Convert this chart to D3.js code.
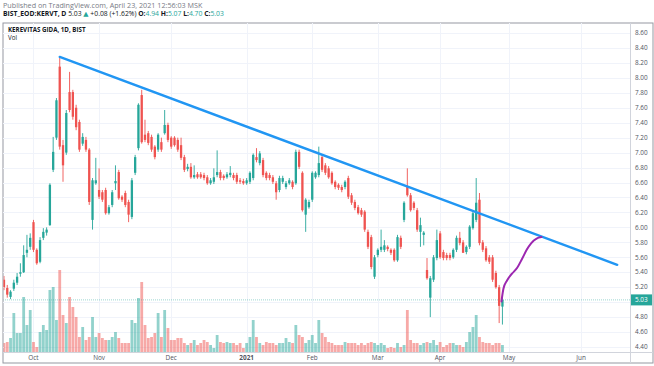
<!DOCTYPE html>
<html>
<head>
<meta charset="utf-8">
<script src="https://cdn.jsdelivr.net/npm/d3@7"></script>
<style>
  html, body { margin: 0; padding: 0; background: #fff; }
  svg { display: block; font-family: "Open Sans", "DejaVu Sans", sans-serif; }
</style>
</head>
<body>
<svg id="chart" width="654" height="366"></svg>
<script>
// daily candles [open, high, low, close], Sep 2020 -> Apr 2021
const candles = [
  [5.30,5.35,5.16,5.20],[5.19,5.23,5.06,5.10],[5.07,5.16,5.04,5.14],[5.18,5.30,5.15,5.26],[5.26,5.39,5.23,5.34],
  [5.38,5.52,5.34,5.40],[5.40,5.76,5.39,5.63],[5.66,5.90,5.60,5.70],[5.74,5.92,5.70,5.86],[6.07,6.10,5.67,5.70],
  [5.70,5.72,5.50,5.52],[5.54,5.87,5.52,5.83],[5.86,5.99,5.83,5.94],[5.93,6.00,5.89,5.97],[6.03,6.59,6.02,6.57],
  [6.77,7.21,6.74,7.01],[7.20,7.73,7.17,7.70],[8.15,8.28,7.04,7.08],[7.10,7.17,6.61,6.83],[7.00,7.57,6.97,7.53],
  [7.81,8.08,7.54,7.57],[7.81,7.84,7.44,7.48],[7.60,7.64,7.30,7.34],[7.41,7.44,7.01,7.04],[7.12,7.26,7.09,7.21],
  [7.17,7.21,7.01,7.04],[7.04,7.06,6.30,6.34],[6.10,6.66,5.97,6.63],[6.59,6.93,6.57,6.63],[6.50,6.79,6.38,6.41],
  [6.47,6.50,6.34,6.37],[6.50,6.53,6.17,6.19],[6.19,6.30,6.17,6.27],[6.30,6.50,6.27,6.47],[6.59,6.83,6.50,6.62],
  [6.74,6.77,6.37,6.39],[6.41,6.43,6.34,6.37],[6.46,6.49,6.27,6.30],[6.34,6.37,6.07,6.17],[6.14,6.66,6.11,6.63],
  [6.73,6.97,6.70,6.94],[7.06,7.66,7.03,7.64],[7.77,7.84,7.12,7.14],[7.24,7.44,7.14,7.17],[7.26,7.29,7.10,7.13],
  [7.21,7.24,7.01,7.04],[7.08,7.10,6.91,6.94],[7.04,7.26,7.01,7.24],[7.14,7.20,7.01,7.04],[7.26,7.57,7.24,7.37],
  [7.37,7.40,7.14,7.17],[7.20,7.22,7.05,7.08],[7.20,7.22,7.08,7.10],[7.17,7.20,7.01,7.04],[7.10,7.20,6.90,6.93],
  [6.94,6.97,6.74,6.77],[6.78,6.85,6.75,6.81],[6.81,6.86,6.65,6.67],[6.67,6.83,6.65,6.70],[6.71,6.74,6.65,6.67],
  [6.71,6.74,6.65,6.67],[6.70,6.73,6.63,6.66],[6.67,6.70,6.57,6.59],[6.59,6.66,6.57,6.63],[6.61,6.79,6.58,6.67],
  [6.70,7.03,6.67,6.74],[6.74,6.77,6.63,6.66],[6.69,6.71,6.63,6.66],[6.67,6.74,6.65,6.71],[6.70,6.82,6.67,6.73],
  [6.70,6.73,6.63,6.66],[6.70,6.73,6.58,6.61],[6.63,6.66,6.58,6.61],[6.62,6.65,6.57,6.59],[6.59,6.66,6.57,6.63],
  [6.61,6.75,6.58,6.73],[6.66,6.99,6.63,6.97],[6.94,7.06,6.87,6.90],[6.86,7.02,6.83,6.99],[6.90,6.93,6.67,6.70],
  [6.73,6.75,6.63,6.66],[6.70,6.73,6.63,6.66],[6.67,6.70,6.58,6.61],[6.59,6.62,6.37,6.47],[6.50,6.69,6.47,6.66],
  [6.61,6.69,6.58,6.66],[6.54,6.62,6.51,6.59],[6.59,6.66,6.57,6.63],[6.61,6.63,6.51,6.54],[6.59,7.04,6.57,7.01],
  [7.01,7.04,6.78,6.81],[6.73,6.75,6.21,6.23],[6.17,6.39,5.94,6.37],[6.27,6.37,6.25,6.34],[6.37,6.75,6.34,6.73],
  [6.67,6.75,6.65,6.73],[6.70,7.08,6.67,6.86],[6.94,6.97,6.74,6.77],[6.83,6.86,6.70,6.73],[6.79,6.82,6.65,6.67],
  [6.73,6.75,6.57,6.59],[6.61,6.63,6.51,6.54],[6.57,6.59,6.50,6.53],[6.54,6.57,6.47,6.50],[6.54,6.63,6.51,6.61],
  [6.66,6.69,6.38,6.41],[6.43,6.46,6.30,6.33],[6.34,6.37,6.23,6.26],[6.27,6.30,6.17,6.19],[6.23,6.26,6.14,6.17],
  [6.21,6.23,5.94,5.97],[5.94,5.97,5.71,5.74],[5.87,5.90,5.44,5.47],[5.34,5.63,5.31,5.60],[5.63,5.72,5.60,5.70],
  [5.70,5.97,5.67,5.74],[5.70,5.83,5.67,5.76],[5.74,5.76,5.68,5.71],[5.70,5.72,5.63,5.66],[5.70,5.72,5.54,5.56],
  [5.56,5.90,5.54,5.87],[5.86,5.89,5.71,5.74],[6.10,6.35,6.07,6.33],[6.54,6.79,6.41,6.43],[6.43,6.46,6.21,6.23],
  [6.33,6.35,6.23,6.26],[6.23,6.26,5.94,5.97],[5.94,6.13,5.74,6.03],[5.90,5.95,5.76,5.93],[5.43,5.59,5.30,5.32],
  [5.06,5.35,4.80,5.32],[5.30,5.63,5.27,5.60],[5.59,5.97,5.56,5.83],[5.92,5.95,5.58,5.60],[5.67,5.70,5.56,5.59],
  [5.63,5.66,5.56,5.59],[5.63,5.66,5.56,5.59],[5.60,5.72,5.58,5.70],[5.70,5.89,5.67,5.86],[5.86,5.94,5.76,5.79],
  [5.80,5.83,5.66,5.66],[5.67,5.76,5.64,5.74],[5.74,6.03,5.71,6.01],[5.99,6.22,5.97,6.19],[6.10,6.66,6.07,6.33],
  [6.37,6.46,5.76,5.79],[5.80,5.83,5.67,5.70],[5.72,5.75,5.54,5.56],[5.60,5.63,5.51,5.54],[5.60,5.63,5.27,5.30],
  [5.39,5.42,5.18,5.20],[5.20,5.23,4.72,4.95],[4.94,5.07,4.70,5.03]
];

// volume per candle (relative units)
const volumes = [
  9,10,14,39,19,19,55,27,42,10,5,20,27,22,62,65,32,82,37,29,55,45,35,15,25,12,15,
  35,15,19,14,12,12,15,20,14,9,9,9,32,29,54,70,27,14,15,19,39,15,42,24,12,
  12,14,14,9,7,9,12,7,9,12,10,7,4,17,10,9,10,9,9,7,9,4,9,15,32,15,9,
  7,10,9,9,7,9,9,14,10,9,27,17,15,9,12,17,9,32,19,15,10,9,7,7,7,10,
  9,9,9,7,9,7,9,10,9,7,9,7,4,5,4,9,5,7,42,12,9,9,7,9,10,9,
  12,7,10,5,7,9,9,7,7,5,10,20,25,37,15,10,9,9,7,9,9,7
];

// time axis labels at bar positions
const monthLabels = ["Oct", "Nov", "Dec", "2021", "Feb", "Mar", "Apr", "May", "Jun"];
const monthAt = [9, 29, 51, 74, 94, 114, 133, 154, 176];

// price axis ticks
const priceTicks = d3.range(4.40, 8.61, 0.20).map(v => +v.toFixed(2));

// drawn trend line (bar index, price) and the purple projection curve
const trendLine = [{ i: 17, p: 8.28 }, { i: 187, p: 5.50 }];
const projection = [
  { i: 151.7, p: 5.01 }, { i: 152.3, p: 5.18 }, { i: 153.4, p: 5.29 }, { i: 154.9, p: 5.38 },
  { i: 156.5, p: 5.46 }, { i: 158.0, p: 5.58 }, { i: 159.4, p: 5.70 }, { i: 160.8, p: 5.79 },
  { i: 162.4, p: 5.85 }, { i: 163.9, p: 5.87 }
];

const lastPrice = 5.03;

const UP = "#26a69a", DOWN = "#ef5350";
const svg = d3.select("#chart");
const L = 3, T = 23, R = 630, B = 352, FR = 653, FB = 363;

const x = d3.scaleLinear().domain([-0.3, 190.9]).range([L, R]);
const y = d3.scaleLinear().domain([4.40, 8.60]).range([347, 33]);
const yv = d3.scaleLinear().domain([0, 90]).range([B, B - 90]);

// ---------- header ----------
svg.append("text").attr("x", 3).attr("y", 7.5).attr("font-size", 7.2).attr("fill", "#787b86")
  .text("Published on TradingView.com, April 23, 2021 12:56:03 MSK");

const h2 = svg.append("text").attr("x", 3).attr("y", 16.2).attr("font-size", 6.8).attr("fill", "#131722");
h2.append("tspan").attr("font-weight", 700).text("BIST_EOD:KERVT, D ");
h2.append("tspan").text("5.03 ");
h2.append("tspan").attr("fill", UP).text("▲ ");
h2.append("tspan").text("+0.08 (+1.62%) ");
[["O:", "4.94"], ["H:", "5.07"], ["L:", "4.70"], ["C:", "5.03"]].forEach(([k, v]) => {
  h2.append("tspan").attr("font-weight", 700).text(k);
  h2.append("tspan").attr("fill", UP).text(v + " ");
});

// ---------- frame + grid ----------
svg.append("rect").attr("x", L).attr("y", T).attr("width", FR - L).attr("height", FB - T)
  .attr("fill", "#fff").attr("stroke", "#9598a1").attr("stroke-width", 1);

const grid = svg.append("g").attr("stroke", "#f0f3fa").attr("stroke-width", 1);
priceTicks.forEach(v => {
  grid.append("line").attr("x1", L).attr("x2", R).attr("y1", Math.round(y(v)) + 0.5).attr("y2", Math.round(y(v)) + 0.5);
});
monthAt.forEach(i => {
  grid.append("line").attr("y1", T).attr("y2", B).attr("x1", Math.round(x(i)) + 0.5).attr("x2", Math.round(x(i)) + 0.5);
});

svg.append("defs").append("clipPath").attr("id", "pane")
  .append("rect").attr("x", L + 0.5).attr("y", T + 0.5).attr("width", R - L - 0.5).attr("height", B - T - 0.5);
const pane = svg.append("g").attr("clip-path", "url(#pane)");

// ---------- volume ----------
const bw = 2.3;
pane.append("g").selectAll("rect").data(volumes).join("rect")
  .attr("x", (d, i) => x(i) - 1.4)
  .attr("width", 2.8)
  .attr("y", d => yv(d))
  .attr("height", d => B - yv(d))
  .attr("fill", (d, i) => candles[i][3] >= candles[i][0] ? UP : DOWN)
  .attr("fill-opacity", 0.5);

// last price line
pane.append("line").attr("x1", L).attr("x2", R).attr("y1", y(lastPrice)).attr("y2", y(lastPrice))
  .attr("stroke", UP).attr("stroke-opacity", 0.45).attr("stroke-width", 1).attr("stroke-dasharray", "1,1");

// ---------- candles ----------
const cg = pane.append("g").selectAll("g").data(candles).join("g")
  .attr("fill", d => d[3] >= d[0] ? UP : DOWN)
  .attr("stroke", d => d[3] >= d[0] ? UP : DOWN);
cg.append("line")
  .attr("x1", (d, i) => x(i)).attr("x2", (d, i) => x(i))
  .attr("y1", d => y(d[1])).attr("y2", d => y(d[2]))
  .attr("stroke-width", 0.9);
cg.append("rect")
  .attr("x", (d, i) => x(i) - bw / 2).attr("width", bw)
  .attr("y", d => y(Math.max(d[0], d[3])))
  .attr("height", d => Math.max(0.8, Math.abs(y(d[0]) - y(d[3]))))
  .attr("stroke", "none");

// ---------- drawings ----------
pane.append("path").datum(trendLine)
  .attr("d", d3.line().x(d => x(d.i)).y(d => y(d.p)))
  .attr("fill", "none").attr("stroke", "#2196f3").attr("stroke-width", 2.4).attr("stroke-linecap", "round");

pane.append("path").datum(projection)
  .attr("d", d3.line().curve(d3.curveMonotoneX).x(d => x(d.i)).y(d => y(d.p)))
  .attr("fill", "none").attr("stroke", "#9c27b0").attr("stroke-width", 2).attr("stroke-linecap", "round");

// ---------- titles in pane ----------
svg.append("text").attr("x", 8).attr("y", 31.5).attr("font-size", 6.2).attr("font-weight", 700)
  .attr("fill", "#131722").text("KEREVITAS GIDA, 1D, BIST");
svg.append("text").attr("x", 8).attr("y", 39.5).attr("font-size", 6.2).attr("fill", "#131722").text("Vol");

// ---------- price axis ----------
svg.append("line").attr("x1", R + 0.5).attr("x2", R + 0.5).attr("y1", T).attr("y2", FB).attr("stroke", "#d1d4dc");
svg.append("line").attr("x1", L).attr("x2", FR).attr("y1", B + 0.5).attr("y2", B + 0.5).attr("stroke", "#d1d4dc");

const yl = y(lastPrice);
svg.append("g").selectAll("text").data(priceTicks.filter(v => Math.abs(y(v) - yl) > 8)).join("text")
  .attr("x", 635).attr("y", d => y(d)).attr("dy", "0.35em")
  .attr("font-size", 6.4).attr("fill", "#50535e").text(d => d.toFixed(2));

svg.append("rect").attr("x", R + 1).attr("y", yl - 5.5).attr("width", 21).attr("height", 11).attr("fill", UP);
svg.append("text").attr("x", 635).attr("y", yl).attr("dy", "0.35em").attr("font-size", 6.4)
  .attr("fill", "#fff").text(lastPrice.toFixed(2));

// ---------- time axis ----------
svg.append("g").selectAll("text").data(monthLabels).join("text")
  .attr("x", (d, k) => x(monthAt[k])).attr("y", 357.5).attr("dy", "0.35em")
  .attr("text-anchor", "middle").attr("font-size", 6.4)
  .attr("font-weight", d => /^\d+$/.test(d) ? 700 : 400)
  .attr("fill", "#50535e").text(d => d);
</script>
</body>
</html>
